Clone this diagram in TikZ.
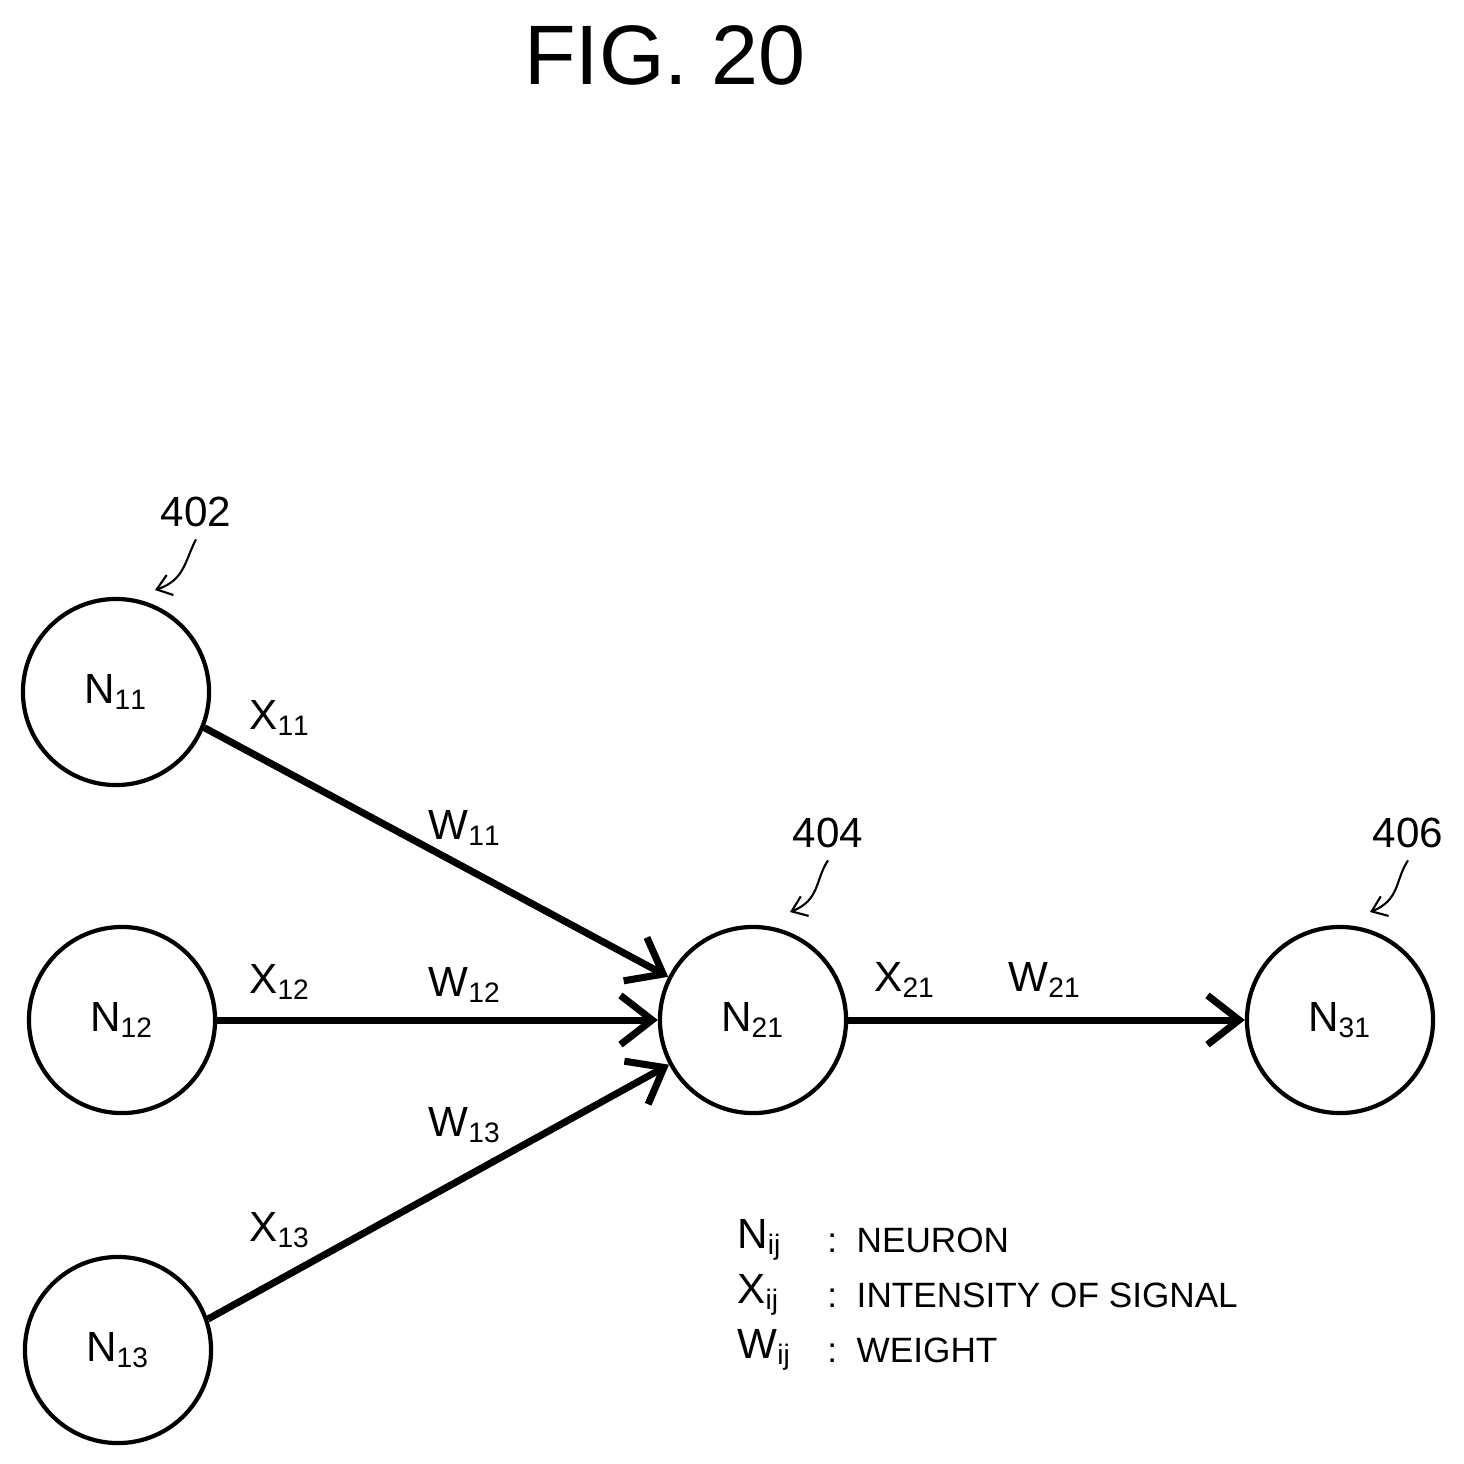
\documentclass[tikz,border=0pt]{standalone}
\usepackage{fontspec}
\setmainfont{Liberation Sans}
\usetikzlibrary{arrows.meta}

\begin{document}
\begin{tikzpicture}[
    x=0.01cm, y=-0.01cm,
    neuron/.style={%
      draw,
      circle,
      line width=1.2pt,
      minimum size=1.86cm,
      font=\fontsize{12}{14}\selectfont,
    },
    sig/.style={line width=2pt, -{Straight Barb[length=9pt,width=14pt,line width=2pt]}},
    lbl/.style={font=\fontsize{12}{14}\selectfont},
    key/.style={font=\fontsize{10}{12}\selectfont},
    ref/.style={font=\fontsize{12}{14}\selectfont},
    lead/.style={line width=0.6pt, -{Straight Barb[length=4pt,width=6pt]}},
  ]
\useasboundingbox (0,0) rectangle (1464,1463);

\node [font=\fontsize{24}{28}\selectfont] (title) at (665,55) {FIG. 20};

% neurons
\node [neuron] (N11) at (116,692) {N$_{\mathrm{11}}$};
\node [neuron] (N12) at (122,1020) {N$_{\mathrm{12}}$};
\node [neuron] (N13) at (118,1350) {N$_{\mathrm{13}}$};
\node [neuron] (N21) at (753,1020) {N$_{\mathrm{21}}$};
\node [neuron] (N31) at (1340,1020) {N$_{\mathrm{31}}$};

% signals
\draw [sig] (N11.-22) -- (N21.153);
\draw [sig] (N12) -- (N21);
\draw [sig] (N13.19) -- (N21.208);
\draw [sig] (N21) -- (N31);

\node [lbl] (x11) at (280,718) {X$_{\mathrm{11}}$};
\node [lbl] (w11) at (465,828) {W$_{\mathrm{11}}$};
\node [lbl] (x12) at (280,982) {X$_{\mathrm{12}}$};
\node [lbl] (w12) at (465,985) {W$_{\mathrm{12}}$};
\node [lbl] (x13) at (280,1230) {X$_{\mathrm{13}}$};
\node [lbl] (w13) at (465,1125) {W$_{\mathrm{13}}$};
\node [lbl] (x21) at (905,980) {X$_{\mathrm{21}}$};
\node [lbl] (w21) at (1045,980) {W$_{\mathrm{21}}$};

% reference numerals
\node [ref] (r402) at (196,512) {402};
\node [ref] (r404) at (828,833) {404};
\node [ref] (r406) at (1408,833) {406};
\coordinate (p402) at (155,590);
\coordinate (p404) at (790,912);
\coordinate (p406) at (1370,912);
\draw [lead] (r402.south) .. controls (185,560) and (185,580) .. (p402);
\draw [lead] (r404.south) .. controls (815,880) and (820,900) .. (p404);
\draw [lead] (r406.south) .. controls (1395,880) and (1400,900) .. (p406);

% legend
\node [lbl, anchor=west] (kN) at (725,1240) {N$_{\mathrm{ij}}$};
\node [lbl, anchor=west] (kX) at (725,1295) {X$_{\mathrm{ij}}$};
\node [lbl, anchor=west] (kW) at (725,1350) {W$_{\mathrm{ij}}$};
\node [key, anchor=west] (dN) at (815,1240) {:\ \ NEURON};
\node [key, anchor=west] (dX) at (815,1295) {:\ \ INTENSITY OF SIGNAL};
\node [key, anchor=west] (dW) at (815,1350) {:\ \ WEIGHT};
\end{tikzpicture}
\end{document}
